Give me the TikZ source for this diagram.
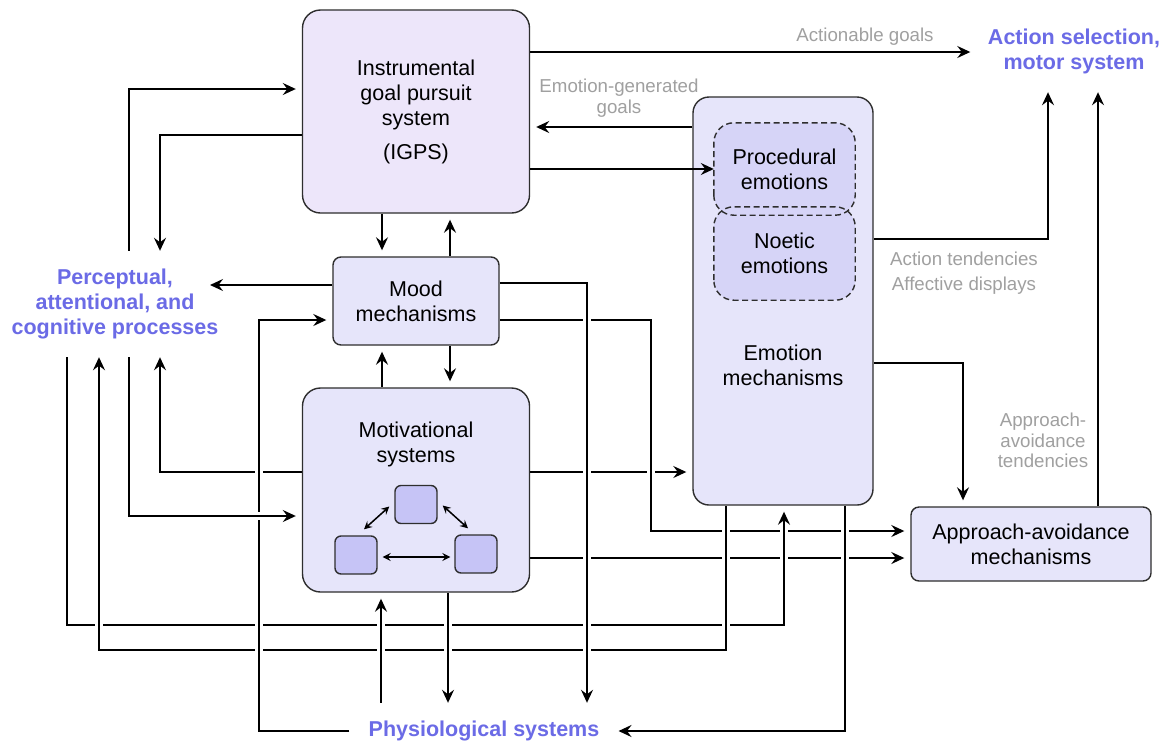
\documentclass[tikz,border=0pt]{standalone}
\usepackage{fontspec}
\setmainfont{Liberation Sans}
\usetikzlibrary{arrows.meta,calc,backgrounds}
\definecolor{igpsfill}{HTML}{EDE6FA}
\definecolor{boxfill}{HTML}{E6E5FA}
\definecolor{dashfill}{HTML}{D6D4F7}
\definecolor{sqfill}{HTML}{C6C4F6}
\definecolor{bluetxt}{HTML}{6B6BE6}
\definecolor{graytxt}{HTML}{A0A0A0}
\definecolor{edgecol}{HTML}{2E2E2E}
\begin{document}
\begin{tikzpicture}[x=1pt,y=-1pt,
  box/.style={draw=edgecol,line width=1.4pt,fill=boxfill,inner sep=0pt},
  bodytxt/.style={align=center,font=\fontsize{21.5}{25}\selectfont},
  dashbox/.style={fill=dashfill,inner sep=0pt,minimum width=141pt,rounded corners=20pt},
  sq/.style={draw=edgecol,line width=1.4pt,fill=sqfill,rounded corners=6pt,inner sep=0pt,minimum width=42pt,minimum height=38pt},
  bluelbl/.style={align=center,text=bluetxt,font=\bfseries\fontsize{21.5}{25}\selectfont,inner sep=0pt},
  graylbl/.style={align=center,text=graytxt},
  con/.style={line width=1.8pt,-{Stealth[length=13pt,width=12pt,inset=4.5pt]},
    preaction={draw=white,line width=8pt,arrows=-}},
  plaincon/.style={line width=1.8pt,-{Stealth[length=13pt,width=12pt,inset=4.5pt]}},
  gap/.style={shorten >=6pt},
  small/.style={line width=1.5pt,{Stealth[length=8pt,width=8pt,inset=3pt]}-{Stealth[length=8pt,width=8pt,inset=3pt]}}
]
\useasboundingbox (0,0) rectangle (1169,742);

% ---- boxes ----
\node[box,rounded corners=18pt,fill=igpsfill,minimum width=227pt,minimum height=203pt] (igps) at (416,111.5) {};
\node[bodytxt] (igpstxt) at (igps) {Instrumental\\goal pursuit\\system\\[9pt](IGPS)};
\node[box,rounded corners=8pt,minimum width=166pt,minimum height=88pt,bodytxt] (mood) at (416,301) {Mood\\mechanisms};
\node[box,rounded corners=18pt,minimum width=227pt,minimum height=204pt] (motiv) at (416,490) {};
\node[bodytxt] (motivtxt) at (416,444) {Motivational\\systems};
\node[sq] (sqT) at (416,504.5) {};
\node[sq] (sqL) at (356,555) {};
\node[sq] (sqR) at (476,554) {};
\draw[small] ($(sqL.north)+(8,-6)$) -- ($(sqT.west)+(-5,2)$);
\draw[small] ($(sqT.east)+(5,1)$) -- ($(sqR.north)+(-8,-6)$);
\draw[small] ($(sqL.east)+(5,2)$) -- ($(sqR.west)+(-4,3)$);

\node[box,rounded corners=16pt,minimum width=180pt,minimum height=408pt] (emo) at (783,301) {};
\node[bodytxt] (emotxt) at (783,365) {Emotion\\mechanisms};
\node[dashbox,minimum height=92pt] (proc) at (784.5,169) {};
\node[dashbox,minimum height=93pt] (noet) at (784.5,253.5) {};
\draw[edgecol,line width=1.4pt,dash pattern=on 6pt off 3.5pt,rounded corners=20pt] (proc.south west) rectangle (proc.north east);
\draw[edgecol,line width=1.4pt,dash pattern=on 6pt off 3.5pt,rounded corners=20pt] (noet.south west) rectangle (noet.north east);
\node[bodytxt] (proctxt) at (proc) {Procedural\\emotions};
\node[bodytxt] (noettxt) at (noet) {Noetic\\emotions};

\node[box,rounded corners=8pt,minimum width=240pt,minimum height=74pt,bodytxt] (aa) at (1031,544) {Approach-avoidance\\mechanisms};

% ---- big labels ----
\node[bluelbl,minimum height=106pt] (perc) at (115,304) {Perceptual,\\attentional, and\\cognitive processes};
\node[bluelbl,inner xsep=19pt,minimum height=56pt] (phys) at (484,731) {Physiological systems};
\node[bluelbl,inner xsep=17.5pt,minimum height=81pt] (act) at (1074,51.5) {Action selection,\\motor system};
\coordinate (percIn) at (210,285);

% ---- gray labels ----
\node[graylbl,font=\fontsize{18.7}{21}\selectfont] (lblAG) at (865,37) {Actionable goals};
\node[graylbl,font=\fontsize{18.7}{21}\selectfont] (lblEG) at (619,98.5) {Emotion-generated\\goals};
\node[graylbl,font=\fontsize{18.7}{25}\selectfont] (lblAT) at (964,273.5) {Action tendencies\\Affective displays};
\node[graylbl,font=\fontsize{18.7}{20.5}\selectfont] (lblAA) at (1043,440.5) {Approach-\\avoidance\\tendencies};

% IGPS -> procedural emotions (drawn over the emotion box)
\draw[plaincon] (igps.east |- 0,169) -- (proc.west |- 0,169);

% ---- connectors ----
\begin{scope}[on background layer]
\fill[white] (0,0) rectangle (1169,742);
\draw[con,gap] ($(perc.north)+(14,0)$) |- (igps.west |- 0,89);
\draw[con] (igps.west |- 0,135) -| ($(perc.north)+(45,0)$);
\draw[con] (igps.east |- 0,52) -- (act.west |- 0,52);
\draw[con,gap] (emo.west |- 0,127) -- (igps.east |- 0,127);
\draw[con,gap] (igps.south -| 382,0) -- (mood.north -| 382,0);
\draw[con,gap] (mood.north -| 450,0) -- (igps.south -| 450,0);
\draw[con,gap] (mood.south -| 450,0) -- (motiv.north -| 450,0);
\draw[con,gap] (motiv.north -| 382,0) -- (mood.south -| 382,0);
\draw[con] (mood.west |- 0,285) -- (percIn);
\draw[con,gap] (emo.east |- 0,363) -| (aa.north -| 963,0);
\draw[con] (emo.east |- 0,239) -| (act.south -| 1048,0);
\draw[con] (aa.north -| 1098,0) -- (act.south -| 1098,0);
% crossing order: later paths stay whole
\draw[con,gap] (motiv.east |- 0,472) -- (emo.west |- 0,472);
\draw[con,gap] (motiv.east |- 0,558) -- (aa.west |- 0,558);
\draw[con] (motiv.west |- 0,472) -| ($(perc.south)+(45,0)$);
\draw[con,gap] (mood.east |- 0,320) -| (651,531) -- (aa.west |- 0,531);
\draw[con,gap] ($(perc.south)+(-48,0)$) |- (784,625) -- (emo.south -| 784,0);
\draw[con] (emo.south -| 726,0) |- (99,650) -- ($(perc.south)+(-16,0)$);
\draw[con] (emo.south -| 845,0) |- (phys.east);
\draw[con] (mood.east |- 0,283) -| (phys.north -| 587,0);
\draw[con] (motiv.south -| 448,0) -- (phys.north -| 448,0);
\draw[con,gap] (phys.north -| 381,0) -- (motiv.south -| 381,0);
\draw[con,gap] (phys.west) -| (259,320) -- (mood.west |- 0,320);
\draw[con,gap] ($(perc.south)+(14,0)$) |- (motiv.west |- 0,516);
\end{scope}
\end{tikzpicture}
\end{document}
